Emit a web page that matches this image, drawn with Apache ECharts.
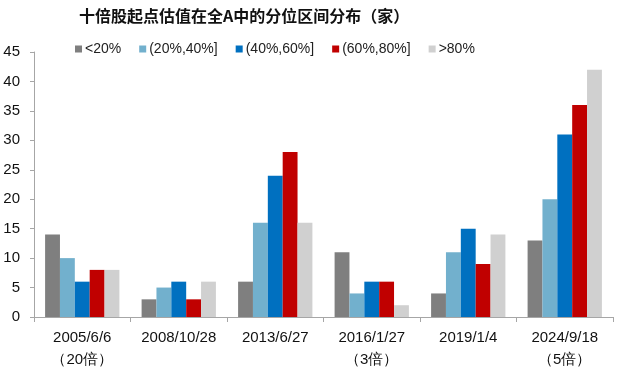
<!DOCTYPE html>
<html><head><meta charset="utf-8">
<script src="https://cdn.jsdelivr.net/npm/echarts@6/dist/echarts.min.js"></script>
<style>html,body{margin:0;padding:0;background:#fff}#c{width:622px;height:375px}</style>
</head><body><div id="c"></div>
<script>
const titleText = '十倍股起点估值在全A中的分位区间分布（家）';
const categories = ['2005/6/6\n（20倍）', '2008/10/28', '2013/6/27', '2016/1/27\n（3倍）', '2019/1/4', '2024/9/18\n（5倍）'];
const seriesNames = ['<20%', '(20%,40%]', '(40%,60%]', '(60%,80%]', '>80%'];
const lt20 = [14, 3, 6, 11, 4, 13];
const p20_40 = [10, 5, 16, 4, 11, 20];
const p40_60 = [6, 6, 24, 6, 15, 31];
const p60_80 = [8, 3, 28, 6, 9, 36];
const gt80 = [8, 6, 16, 2, 14, 42];
const yTicks = {min: 0, max: 45, interval: 5};
const colors = ['#7f7f7f', '#72b0cd', '#0070c0', '#c00000', '#d0d0d0'];
const allData = [lt20, p20_40, p40_60, p60_80, gt80];

const chart = echarts.init(document.getElementById('c'));
chart.setOption({
  animation: false,
  title: {text: titleText, left: 74, top: 3, textStyle: {fontFamily: 'Noto Sans CJK SC', fontSize: 16, fontWeight: 'bold', color: '#111'}},
  legend: {
    data: seriesNames, left: 70, top: 37, itemWidth: 7, itemHeight: 7, itemGap: 18, icon: 'rect',
    textStyle: {fontFamily: 'Liberation Sans', fontSize: 14, color: '#222', padding: [0,0,0,-2]}
  },
  grid: {left: 34, right: 9, top: 52, bottom: 58},
  xAxis: {
    type: 'category', data: categories,
    axisLine: {lineStyle: {color: '#a6a6a6'}},
    axisTick: {show: true, length: 5, lineStyle: {color: '#a6a6a6'}},
    axisLabel: {interval: 0, fontFamily: 'Liberation Sans', fontSize: 15, color: '#111', lineHeight: 22, margin: 10}
  },
  yAxis: {
    type: 'value', min: yTicks.min, max: yTicks.max, interval: yTicks.interval,
    axisLine: {show: true, lineStyle: {color: '#a6a6a6'}},
    axisTick: {show: true, length: 4, lineStyle: {color: '#a6a6a6'}},
    splitLine: {show: false},
    axisLabel: {fontFamily: 'Liberation Sans', fontSize: 15, color: '#111', margin: 14}
  },
  series: seriesNames.map((n, i) => ({
    name: n, type: 'bar', data: allData[i], barGap: '0%', barCategoryGap: '23%',
    itemStyle: {color: colors[i]}
  }))
});
</script></body></html>
